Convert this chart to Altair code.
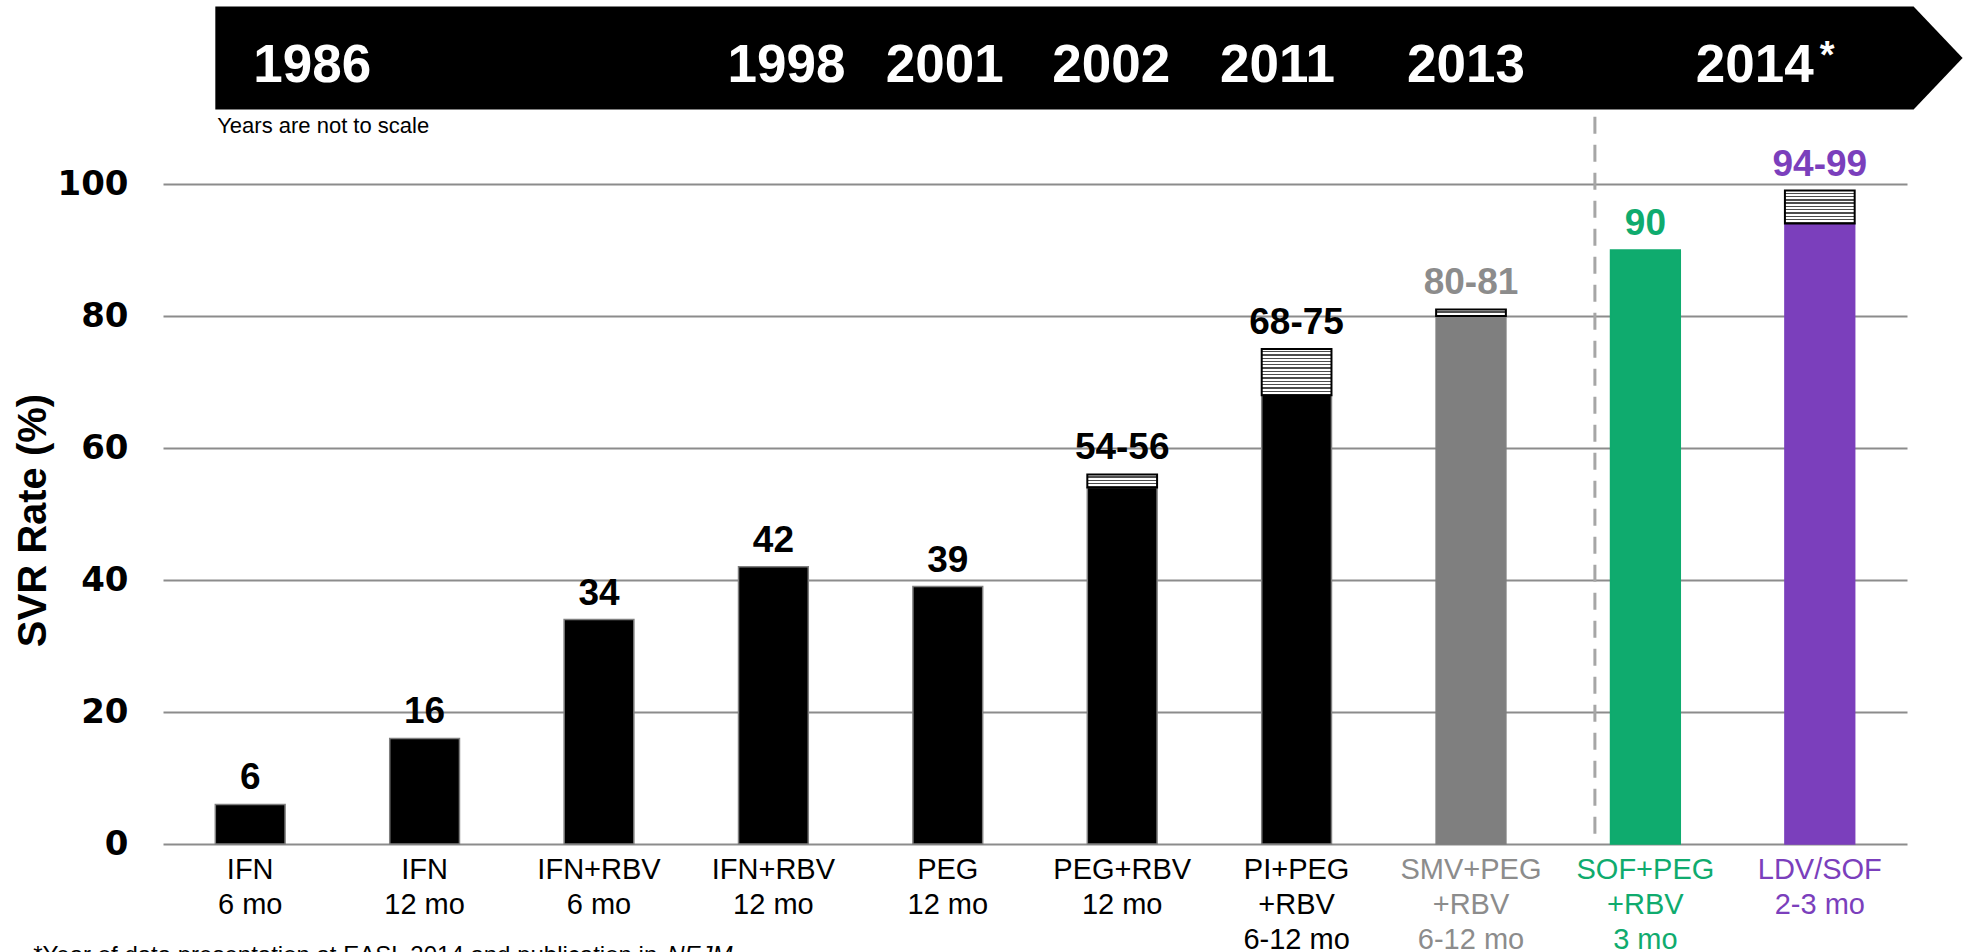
import altair as alt
import pandas as pd

# ---------------- data ----------------
regimens = [
    "IFN\n6 mo", "IFN\n12 mo", "IFN+RBV\n6 mo", "IFN+RBV\n12 mo", "PEG\n12 mo",
    "PEG+RBV\n12 mo", "PI+PEG\n+RBV\n6-12 mo", "SMV+PEG\n+RBV\n6-12 mo",
    "SOF+PEG\n+RBV\n3 mo", "LDV/SOF\n2-3 mo",
]
svr_low = [6, 16, 34, 42, 39, 54, 68, 80, 90, 94]
svr_high = [6, 16, 34, 42, 39, 56, 75, 81, 90, 99]
svr_text = ["6", "16", "34", "42", "39", "54-56", "68-75", "80-81", "90", "94-99"]

years = ["1986", "1998", "2001", "2002", "2011", "2013", "2014"]
year_regimen = [0, 3, 4, 5, 6, 7, 9]          # regimen each year sits over

# ---------------- styles ----------------
FONT = "Liberation Sans"
BLACK, GRAY, GREEN, PURPLE = "#000000", "#7f7f7f", "#0fab6e", "#7b3fbc"
bar_fill = [BLACK] * 7 + [GRAY, GREEN, PURPLE]
bar_edge = [GRAY] * 7 + [GRAY, GREEN, PURPLE]
label_color = [BLACK] * 7 + ["#8c8c8c", GREEN, PURPLE]
year_dx = [62, 13, -3, -11, -19, -5, -65]
HATCH = "#4d4d4d"

PLOT_W, PLOT_H = 1744, 660
PAD = {"left": 163, "top": 184, "right": 57, "bottom": 108}

XS = alt.Scale(domain=regimens, paddingInner=0.6, paddingOuter=0.3)
YS = alt.Scale(domain=[0, 100], nice=False)
Y_AXIS = alt.Axis(
    values=[0, 20, 40, 60, 80, 100], title="SVR Rate (%)",
    labelFont="DejaVu Sans", labelFontWeight="bold", labelFontSize=34,
    labelColor="black", labelPadding=35, ticks=False, domain=False,
    grid=True, gridColor="#8c8c8c", gridWidth=2,
    titleFont=FONT, titleFontSize=40, titleFontWeight="bold",
    titleColor="black", titlePadding=4, titleY=336,
)


def xenc():
    return alt.X("regimen:N", scale=XS, axis=None)


def yenc(field):
    return alt.Y(f"{field}:Q", scale=YS, axis=Y_AXIS)


df = pd.DataFrame({
    "regimen": regimens,
    "low": svr_low,
    "high": svr_high,
    "value": svr_text,
    "fill": bar_fill,
    "edge": bar_edge,
    "tcolor": label_color,
    "zero": [0] * len(regimens),
})

# solid bars (lower bound of each SVR rate)
bars = alt.Chart(df).mark_bar(strokeWidth=1.5).encode(
    x=xenc(),
    y=yenc("low"),
    fill=alt.Fill("fill:N", scale=None),
    stroke=alt.Stroke("edge:N", scale=None),
)

# hatched boxes for reported ranges
hatch_layers = []
for i in range(len(regimens)):
    lo, hi = svr_low[i], svr_high[i]
    if hi <= lo:
        continue
    n = max(2, round((hi - lo) * 2))
    stops = []
    for k in range(n):
        a, b, c = k / n, (k + 0.6) / n, (k + 1) / n
        stops += [
            {"offset": a, "color": "white"}, {"offset": b, "color": "white"},
            {"offset": b, "color": HATCH}, {"offset": c, "color": HATCH},
        ]
    grad = {"gradient": "linear", "x1": 0, "y1": 0, "x2": 0, "y2": 1, "stops": stops}
    hatch_layers.append(
        alt.Chart(df.iloc[[i]]).mark_bar(fill=grad, stroke="black", strokeWidth=2).encode(
            x=xenc(), y=yenc("low"), y2="high:Q"
        )
    )

# value labels above bars
values = alt.Chart(df).mark_text(
    font=FONT, fontSize=37, fontWeight="bold", baseline="alphabetic", dy=-15
).encode(
    x=xenc(), y=yenc("high"), text="value:N", color=alt.Color("tcolor:N", scale=None)
)

# regimen labels under the axis
xlabels = alt.Chart(df).mark_text(
    font=FONT, fontSize=29, baseline="alphabetic", lineBreak="\n", lineHeight=35, dy=35
).encode(
    x=xenc(), y=yenc("zero"), text="regimen:N", color=alt.Color("tcolor:N", scale=None)
)

# dashed divider before the 2014 regimens
divider = alt.Chart(pd.DataFrame({"regimen": [regimens[8]], "top": [110.2], "bottom": [0]})).mark_rule(
    xOffset=-50.5, strokeDash=[17, 11], strokeWidth=3, color="#a6a6a6"
).encode(x=xenc(), y=yenc("top"), y2="bottom:Q")

# timeline banner (arrow) across the top
half_band = 34.88
banner_path = (
    f"M{-half_band},-51.5L1663.4,-51.5L1712.4,0L1663.4,51.5L{-half_band},51.5Z"
)
banner = alt.Chart(pd.DataFrame({"regimen": [regimens[0]], "mid": [119.1]})).mark_point(
    shape=banner_path, size=4, filled=True, fill="black", opacity=1, strokeWidth=0
).encode(x=xenc(), y=yenc("mid"))

year_layers = []
for yr, idx, dx in zip(years, year_regimen, year_dx):
    year_layers.append(
        alt.Chart(pd.DataFrame({"regimen": [regimens[idx]], "t": [yr], "yy": [115.4]})).mark_text(
            font=FONT, fontSize=53, fontWeight="bold", color="white",
            baseline="alphabetic", dx=dx
        ).encode(x=xenc(), y=yenc("yy"), text="t:N")
    )

star = alt.Chart(pd.DataFrame({"regimen": [regimens[9]], "t": ["*"], "yy": [117.6]})).mark_text(
    font=FONT, fontSize=38, fontWeight="bold", color="white",
    baseline="alphabetic", align="left", dx=0
).encode(x=xenc(), y=yenc("yy"), text="t:N")

note_scale = alt.Chart(pd.DataFrame({"regimen": [regimens[0]], "t": ["Years are not to scale"], "yy": [107.7]})).mark_text(
    font=FONT, fontSize=22, color="black", baseline="alphabetic", align="left", dx=-33
).encode(x=xenc(), y=yenc("yy"), text="t:N")

foot = alt.Chart(pd.DataFrame({"regimen": [regimens[0]], "t": ["*Year of data presentation at EASL 2014 and publication in "], "yy": [-18.0]})).mark_text(
    font=FONT, fontSize=24, color="black", baseline="alphabetic", align="left", dx=-217
).encode(x=xenc(), y=yenc("yy"), text="t:N")

foot_it = alt.Chart(pd.DataFrame({"regimen": [regimens[0]], "t": ["NEJM"], "yy": [-18.0]})).mark_text(
    font=FONT, fontSize=24, fontStyle="italic", color="black", baseline="alphabetic",
    align="left", dx=417
).encode(x=xenc(), y=yenc("yy"), text="t:N")

chart = alt.layer(
    bars, *hatch_layers, divider, values, xlabels, banner, *year_layers, star,
    note_scale, foot, foot_it,
).properties(
    width=PLOT_W, height=PLOT_H, padding=PAD, autosize="none", background="white"
).configure_view(strokeWidth=0)

chart.save("out.html", embed_options={"renderer": "svg", "actions": False})
